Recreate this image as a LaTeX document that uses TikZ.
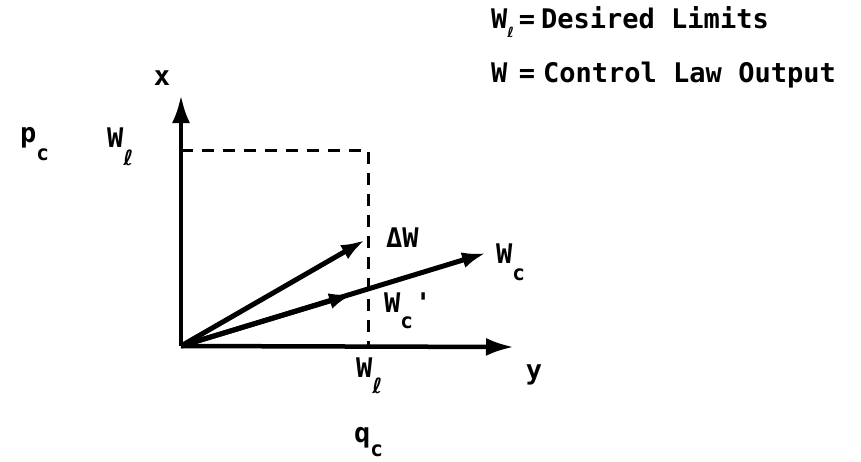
\documentclass[tikz,border=0pt]{standalone}
\usepackage{fontspec}
\newfontfamily\labfont{DejaVu Sans Mono}
\newfontfamily\ellface{DejaVu Sans}
\usetikzlibrary{arrows.meta}
\newcommand{\lowsub}[2][16pt]{\raisebox{-#1}{\fontsize{21pt}{21pt}\selectfont #2}}
\newcommand{\ellsym}{{\ellface\bfseries ℓ}}

\begin{document}
\begin{tikzpicture}[
    x=1pt, y=-1pt,
    lab/.style={font=\labfont\bfseries\fontsize{27pt}{29pt}\selectfont, inner sep=0pt},
    axis/.style={-{Latex[length=28pt,width=18pt]}, line width=4.5pt},
    vec/.style={-{Latex[length=24pt,width=16pt]}, line width=5pt},
    limit/.style={line width=3pt, dash pattern=on 12pt off 9pt}
]
\useasboundingbox (0,0) rectangle (861,461);

% Points
\coordinate (O) at (181,346);
\coordinate (xend) at (181,95);
\coordinate (yend) at (514,347);
\coordinate (xlim) at (181,150);
\coordinate (corner) at (368,150);
\coordinate (ylim) at (368,346);
\coordinate (dwend) at (365,240);
\coordinate (wcmid) at (353,294);
\coordinate (wcend) at (486,253);

% Limits
\draw[limit] (xlim) -- (corner) -- (ylim);

% Axes
\draw[axis] (O) -- (xend);
\draw[axis] (O) -- (yend);

% Vectors
\draw[vec] (O) -- (dwend);
\draw[vec] (O) -- (wcend);
\draw[vec] (O) -- (wcmid);

% Labels
\node[lab, anchor=base] (xlab) at (162,85) {x};
\node[lab, anchor=base] (ylab) at (534,379) {y};
\node[lab, anchor=base west] (pc) at (20,142) {p\lowsub[18pt]{c}};
\node[lab, anchor=base west] (wlimx) at (107,147) {W\lowsub[18pt]{\ellsym}};
\node[lab, anchor=base west] (dw) at (386,247) {ΔW};
\node[lab, anchor=base west] (wc) at (496,263) {W\lowsub[17pt]{c}};
\node[lab, anchor=base west] (wcp) at (384,312) {W\lowsub[16pt]{c}\hspace{2pt}'};
\node[lab, anchor=base west] (wlimy) at (356,377) {W\lowsub[16pt]{\ellsym}};
\node[lab, anchor=base west] (qc) at (354,442) {q\lowsub[14pt]{c}};

% Legend
\node[lab, anchor=base west] (leg1w) at (491,28) {W\raisebox{-9pt}{\fontsize{14pt}{14pt}\selectfont\ellsym}};
\node[lab, anchor=base] (leg1eq) at (527,28) {=};
\node[lab, anchor=base west] (leg1txt) at (541,28) {Desired Limits};
\node[lab, anchor=base west] (leg2w) at (491,82) {W};
\node[lab, anchor=base] (leg2eq) at (527,82) {=};
\node[lab, anchor=base west] (leg2txt) at (543,82) {Control Law Output};

\end{tikzpicture}
\end{document}
